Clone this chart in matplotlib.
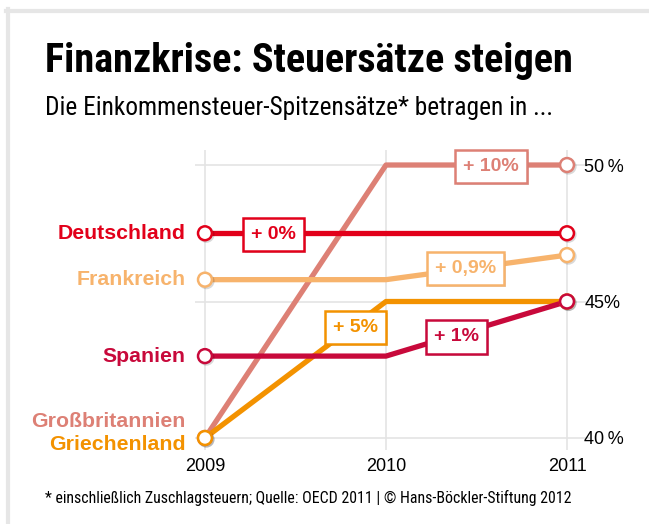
import matplotlib.pyplot as plt
import matplotlib.patheffects as pe
from matplotlib.lines import Line2D
from matplotlib import font_manager

# Daten
jahre = [2009, 2010, 2011]
laender = ["Großbritannien", "Griechenland", "Frankreich", "Spanien", "Deutschland"]
werte = {
    "Deutschland": [47.5, 47.5, 47.5],
    "Frankreich": [45.8, 45.8, 46.7],
    "Spanien": [43.0, 43.0, 45.0],
    "Großbritannien": [40.0, 50.0, 50.0],
    "Griechenland": [40.0, 45.0, 45.0],
}
farben = {
    "Deutschland": "#e2001a",
    "Frankreich": "#f7b36c",
    "Spanien": "#c8093b",
    "Großbritannien": "#dd8075",
    "Griechenland": "#f39200",
}
# Veränderungs-Kästchen: Text, x, y
aenderungen = {
    "Deutschland": ("+ 0%", 2009.38, 47.45),
    "Großbritannien": ("+ 10%", 2010.58, 49.95),
    "Frankreich": ("+ 0,9%", 2010.44, 46.2),
    "Griechenland": ("+ 5%", 2009.83, 44.05),
    "Spanien": ("+ 1%", 2010.39, 43.7),
}
y_ticks = [40, 45, 50]
y_labels = ["40\u2009%", "45%", "50\u2009%"]

# schmale Schrift, falls vorhanden
namen = {f.name for f in font_manager.fontManager.ttflist}
schmal = "Roboto"
for kandidat in ["Liberation Sans Narrow", "Roboto Condensed", "DejaVu Sans Condensed",
                 "Open Sans Condensed", "Noto Sans Condensed"]:
    if kandidat in namen:
        schmal = kandidat
        break
normal = ["Liberation Sans", "DejaVu Sans"]
plt.rcParams['font.family'] = [schmal, 'DejaVu Sans']

fig = plt.figure(figsize=(6.49, 5.24), dpi=100)
W, H = 649, 524

# Rahmen
fig.add_artist(Line2D([6 / W, 1], [1 - 10.5 / H, 1 - 10.5 / H], color="#e6e6e6", lw=3))
fig.add_artist(Line2D([8 / W, 8 / W], [0, 1 - 9 / H], color="#e6e6e6", lw=3))

renderer = fig.canvas.get_renderer()


def text_breite(x, y, s, breite, **kw):
    # Schriftgröße so wählen, dass die Breite wie im Original ist
    t = fig.text(x, y, s, **kw)
    w = t.get_window_extent(renderer).width
    t.set_fontsize(t.get_fontsize() * breite / w)
    return t


text_breite(45 / W, 1 - 72 / H, "Finanzkrise: Steuersätze steigen", 530,
            fontsize=25, fontweight="bold", color="black")
text_breite(45 / W, 1 - 115 / H, "Die Einkommensteuer-Spitzensätze* betragen in ...", 510,
            fontsize=16, color="black")
text_breite(45 / W, 1 - 503 / H,
            "* einschließlich Zuschlagsteuern; Quelle: OECD 2011 | © Hans-Böckler-Stiftung 2012",
            524, fontsize=10, color="black")

ax = fig.add_axes([195 / W, 1 - 450 / H, 395 / W, 300 / H])
ax.set_xlim(2008.945, 2011.127)
ax.set_ylim(39.56, 50.55)
for s in ax.spines.values():
    s.set_visible(False)
ax.set_xticks(jahre)
ax.set_xticklabels([str(j) for j in jahre], fontsize=13, family=normal)
ax.set_yticks(y_ticks)
ax.set_yticklabels(y_labels, fontsize=13, family=normal)
ax.yaxis.tick_right()
ax.tick_params(length=0)
ax.tick_params(axis="x", pad=6)
ax.tick_params(axis="y", pad=-4)
ax.grid(True, color="#e4e4e4", lw=1.2)
ax.set_axisbelow(True)

schatten = [pe.SimpleLineShadow(offset=(1, -1), alpha=0.15), pe.Normal()]
for i, land in enumerate(laender):
    ax.plot(jahre, werte[land], color=farben[land], lw=3.8, zorder=3 + i,
            solid_capstyle="butt", clip_on=False)
for land in laender:
    ax.plot(jahre, werte[land], "o", color=farben[land], mfc="white", mec=farben[land],
            ms=10, mew=1.8, zorder=10, clip_on=False, markevery=[0, 2],
            path_effects=schatten)

# Länderbeschriftung links
for land in laender:
    y = werte[land][0]
    if land == "Großbritannien":
        y = 40.6
    if land == "Griechenland":
        y = 39.75
    ax.annotate(land, (2009, y), xytext=(-14, 0), textcoords="offset points",
                ha="right", va="center", fontsize=15.3, fontweight="bold",
                color=farben[land], family=normal)

for land, (txt, x, y) in aenderungen.items():
    t = ax.text(x, y, txt, ha="center", va="center", fontsize=14, fontweight="bold",
                color=farben[land], zorder=20, family=normal,
                bbox=dict(boxstyle="square,pad=0.42", fc="white", ec=farben[land], lw=1.8))
    t.get_bbox_patch().set_path_effects([pe.withSimplePatchShadow(offset=(1.5, -1.5), alpha=0.2)])

fig.savefig("out.png", dpi=100)
